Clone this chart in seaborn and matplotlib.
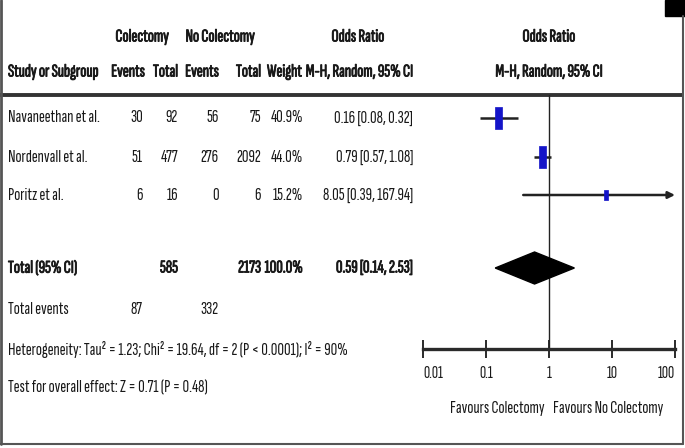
import matplotlib
matplotlib.use('Agg')
import matplotlib.pyplot as plt
import matplotlib.patheffects as pe
from matplotlib.path import Path
from matplotlib.patches import Rectangle
import pandas as pd
import seaborn as sns

# study level data
studies = ['Navaneethan et al.', 'Nordenvall et al.', 'Poritz et al.']
col_events = [30, 51, 6]
col_total = [92, 477, 16]
nocol_events = [56, 276, 0]
nocol_total = [75, 2092, 6]
weights = [40.9, 44.0, 15.2]
odds = [0.16, 0.79, 8.05]
ci_low = [0.08, 0.57, 0.39]
ci_high = [0.32, 1.08, 167.94]

# pooled result
total_or = 0.59
total_low = 0.14
total_high = 2.53
total_col = 585
total_nocol = 2173
total_weight = 100.0
events_col = 87
events_nocol = 332
heterogeneity = 'Heterogeneity: Tau² = 1.23; Chi² = 19.64, df = 2 (P < 0.0001); I² = 90%'
overall_test = 'Test for overall effect: Z = 0.71 (P = 0.48)'

tick_values = [0.01, 0.1, 1, 10, 100]
tick_labels = ['0.01', '0.1', '1', '10', '100']

sns.set_theme(style='white')
plt.rcParams['font.family'] = ['Sofia Sans Extra Condensed', 'DejaVu Sans']

W, H = 685, 448
fig = plt.figure(figsize=(W / 100, H / 100), dpi=100)
fig.patch.set_facecolor('white')

# overlay axes in pixel units for the table part
tab = fig.add_axes([0, 0, 1, 1])
tab.set_xlim(0, W)
tab.set_ylim(H, 0)
tab.axis('off')

ink = '#181818'
fs = 13
hfs = 13
# the font has no bold face, so thicken bold text with a stroke
bold_fx = [pe.withStroke(linewidth=0.6, foreground=ink)]

def txt(x, y, s, ha='left', bold=False, size=fs):
    t = tab.text(x, y, s, ha=ha, va='center', fontsize=size, color=ink)
    if bold:
        t.set_path_effects(bold_fx)
    return t

# header
txt(142, 37, 'Colectomy', ha='center', bold=True, size=hfs)
txt(220, 37, 'No Colectomy', ha='center', bold=True, size=hfs)
txt(358, 37, 'Odds Ratio', ha='center', bold=True, size=hfs)
txt(549, 37, 'Odds Ratio', ha='center', bold=True, size=hfs)
txt(8, 72, 'Study or Subgroup', bold=True, size=hfs)
txt(145, 72, 'Events', ha='right', bold=True, size=hfs)
txt(178, 72, 'Total', ha='right', bold=True, size=hfs)
txt(219, 72, 'Events', ha='right', bold=True, size=hfs)
txt(261, 72, 'Total', ha='right', bold=True, size=hfs)
txt(302, 72, 'Weight', ha='right', bold=True, size=hfs)
txt(413, 72, 'M-H, Random, 95% CI', ha='right', bold=True, size=hfs)
txt(549, 72, 'M-H, Random, 95% CI', ha='center', bold=True, size=hfs)
tab.plot([0, 683], [95, 95], color='#333333', lw=2.8, solid_capstyle='butt')

row_y = [118, 157, 195]
for i, y in enumerate(row_y):
    txt(8, y, studies[i])
    txt(143, y, str(col_events[i]), ha='right')
    txt(178, y, str(col_total[i]), ha='right')
    txt(219, y, str(nocol_events[i]), ha='right')
    txt(261, y, str(nocol_total[i]), ha='right')
    txt(303, y, f'{weights[i]:.1f}%', ha='right')
    txt(413, y, f'{odds[i]:.2f} [{ci_low[i]:.2f}, {ci_high[i]:.2f}]', ha='right')

total_y = 268
txt(8, total_y, 'Total (95% CI)', bold=True)
txt(178, total_y, str(total_col), ha='right', bold=True)
txt(261, total_y, str(total_nocol), ha='right', bold=True)
txt(303, total_y, f'{total_weight:.1f}%', ha='right', bold=True)
txt(413, total_y, f'{total_or:.2f} [{total_low:.2f}, {total_high:.2f}]', ha='right', bold=True)
txt(8, 309, 'Total events')
txt(143, 309, str(events_col), ha='right')
txt(219, 309, str(events_nocol), ha='right')
txt(8, 350, heterogeneity)
txt(8, 388, overall_test)

txt(545, 408, 'Favours Colectomy', ha='right')
txt(553, 408, 'Favours No Colectomy', ha='left')

# frame
tab.plot([1.5, 1.5], [0, 444], color='#555555', lw=2)
tab.plot([683, 683], [16, 444], color='#555555', lw=1.5)
tab.plot([0, 683], [444, 444], color='#555555', lw=1.5)
tab.add_patch(Rectangle((665, 0), 20, 16, color='black'))

# forest axes, log scale
x0, x1 = 423, 675
y_top, y_bot = 95, 349
ax = fig.add_axes([x0 / W, (H - y_bot) / H, (x1 - x0) / W, (y_bot - y_top) / H])
ax.patch.set_alpha(0)
ax.set_xscale('log')
ax.set_xlim(tick_values[0], tick_values[-1])
ax.set_ylim(y_bot, y_top)
for s in ['top', 'left', 'right']:
    ax.spines[s].set_visible(False)
ax.spines['bottom'].set_color('#2a2a2a')
ax.spines['bottom'].set_linewidth(2.4)
ax.set_yticks([])
ax.set_xticks(tick_values)
ax.set_xticklabels(tick_labels)
ax.minorticks_off()
ax.tick_params(axis='x', direction='inout', length=13, width=1.4, color='#2a2a2a',
               pad=6, labelsize=12.5, labelcolor=ink, bottom=True)
xt = ax.get_xticklabels()
xt[0].set_horizontalalignment('left')
xt[-1].set_horizontalalignment('right')
ax.axvline(1, color='#222222', lw=1)

# confidence intervals
for i, y in enumerate(row_y):
    hi = min(ci_high[i], tick_values[-1])
    if ci_high[i] > tick_values[-1]:
        ax.annotate('', xy=(hi, y), xytext=(ci_low[i], y), annotation_clip=False,
                    arrowprops=dict(arrowstyle='-|>', color='#222222', lw=1.8,
                                    mutation_scale=10, shrinkA=0, shrinkB=0))
    else:
        ax.plot([ci_low[i], hi], [y, y], color='#222222', lw=1.8, solid_capstyle='butt')

# study weights as tall boxes
box = Path([(-0.32, -1), (0.32, -1), (0.32, 1), (-0.32, 1), (-0.32, -1)],
           [Path.MOVETO, Path.LINETO, Path.LINETO, Path.LINETO, Path.CLOSEPOLY])
df = pd.DataFrame({'or': odds, 'y': row_y, 'w': weights})
sns.scatterplot(data=df, x='or', y='y', size='w', sizes=(55, 250), size_norm=(15.2, 44.0),
                marker=box, color='#1414c8', edgecolor='#1414c8', linewidth=0.5,
                legend=False, ax=ax, zorder=3)
ax.set_xlabel('')
ax.set_ylabel('')

# pooled diamond
ax.fill([total_low, total_or, total_high, total_or],
        [total_y, total_y - 16, total_y, total_y + 16], color='black', zorder=3)

fig.savefig('out.png', dpi=100, facecolor='white')
